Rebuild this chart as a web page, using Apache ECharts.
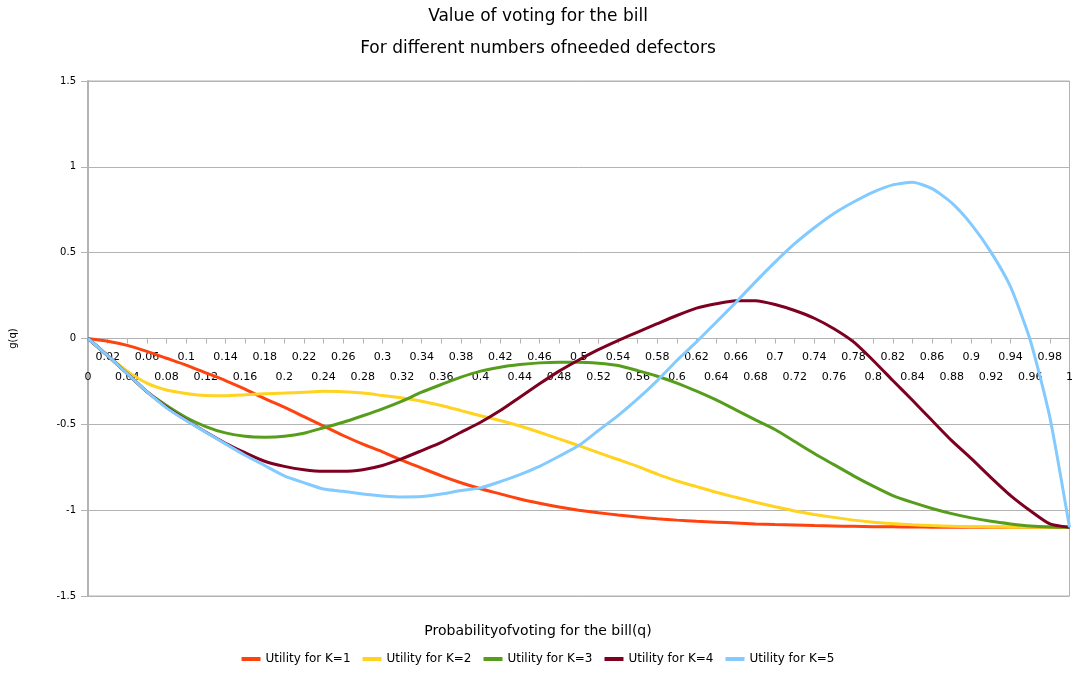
<!DOCTYPE html>
<html>
<head>
<meta charset="utf-8">
<script src="https://cdn.jsdelivr.net/npm/echarts@6/dist/echarts.min.js"></script>
<style>
  html, body { margin: 0; padding: 0; background: #fff; }
  #main { width: 1076px; height: 676px; }
</style>
</head>
<body>
<div id="main"></div>
<script>
// q from 0 to 1, step 0.02
var categories = ['0','0.02','0.04','0.06','0.08','0.1','0.12','0.14','0.16','0.18',
  '0.2','0.22','0.24','0.26','0.28','0.3','0.32','0.34','0.36','0.38',
  '0.4','0.42','0.44','0.46','0.48','0.5','0.52','0.54','0.56','0.58',
  '0.6','0.62','0.64','0.66','0.68','0.7','0.72','0.74','0.76','0.78',
  '0.8','0.82','0.84','0.86','0.88','0.9','0.92','0.94','0.96','0.98','1'];

var seriesNames = ['Utility for K=1','Utility for K=2','Utility for K=3','Utility for K=4','Utility for K=5'];

var k1 = [0,-0.016,-0.04,-0.075,-0.115,-0.155,-0.2,-0.245,-0.295,-0.35,
  -0.40,-0.455,-0.51,-0.565,-0.615,-0.66,-0.71,-0.755,-0.80,-0.84,
  -0.875,-0.905,-0.935,-0.96,-0.982,-1.0,-1.015,-1.028,-1.04,-1.05,
  -1.058,-1.065,-1.07,-1.075,-1.08,-1.084,-1.087,-1.09,-1.092,-1.094,
  -1.096,-1.097,-1.098,-1.099,-1.099,-1.1,-1.1,-1.1,-1.1,-1.1,-1.1];

var k2 = [0,-0.1,-0.19,-0.26,-0.30,-0.32,-0.332,-0.333,-0.328,-0.322,
  -0.318,-0.313,-0.308,-0.31,-0.318,-0.332,-0.346,-0.365,-0.39,-0.42,
  -0.45,-0.478,-0.51,-0.546,-0.585,-0.624,-0.665,-0.705,-0.745,-0.79,
  -0.83,-0.863,-0.896,-0.925,-0.954,-0.98,-1.005,-1.025,-1.042,-1.058,
  -1.07,-1.078,-1.085,-1.09,-1.093,-1.096,-1.098,-1.099,-1.1,-1.1,-1.1];

var k3 = [0,-0.1,-0.205,-0.31,-0.39,-0.46,-0.513,-0.55,-0.57,-0.575,
  -0.57,-0.552,-0.52,-0.488,-0.45,-0.41,-0.365,-0.313,-0.268,-0.225,
  -0.19,-0.167,-0.152,-0.142,-0.138,-0.138,-0.144,-0.157,-0.187,-0.22,
  -0.26,-0.307,-0.358,-0.416,-0.474,-0.53,-0.60,-0.67,-0.735,-0.80,
  -0.86,-0.915,-0.955,-0.99,-1.02,-1.045,-1.065,-1.08,-1.092,-1.098,-1.1];

var k4 = [0,-0.1,-0.205,-0.31,-0.40,-0.475,-0.545,-0.61,-0.665,-0.715,
  -0.745,-0.765,-0.774,-0.774,-0.764,-0.74,-0.70,-0.653,-0.605,-0.546,
  -0.488,-0.42,-0.342,-0.264,-0.19,-0.125,-0.065,-0.012,0.037,0.086,
  0.134,0.177,0.202,0.22,0.22,0.198,0.163,0.118,0.057,-0.02,
  -0.128,-0.245,-0.36,-0.478,-0.595,-0.70,-0.81,-0.915,-1.003,-1.08,-1.1];

var k5 = [0,-0.1,-0.205,-0.31,-0.404,-0.478,-0.546,-0.614,-0.68,-0.74,
  -0.80,-0.84,-0.877,-0.89,-0.906,-0.917,-0.923,-0.921,-0.906,-0.886,
  -0.87,-0.834,-0.793,-0.745,-0.686,-0.624,-0.536,-0.449,-0.352,-0.245,
  -0.128,-0.02,0.095,0.21,0.33,0.445,0.552,0.645,0.728,0.795,
  0.853,0.895,0.91,0.873,0.79,0.665,0.503,0.30,-0.01,-0.46,-1.1];

var colors = ['#ff420e','#ffd320','#579d1c','#7e0021','#83caff'];

var myChart = echarts.init(document.getElementById('main'));

var font = 'DejaVu Sans';
var grey = '#b3b3b3';

var gridTop = 81, gridBottom = 80;
// move the category axis up to the zero line (halfway, as y runs -1.5..1.5)
var zeroOffset = -((676 - gridTop - gridBottom) / 2);

var allData = [k1, k2, k3, k4, k5];
var series = allData.map(function (d, i) {
    return {
        name: seriesNames[i],
        type: 'line',
        data: d,
        symbol: 'none',
        smooth: 0.2,
        lineStyle: { width: 3, color: colors[i] },
        itemStyle: { color: colors[i] }
    };
});

var option = {
    animation: false,
    color: colors,
    textStyle: { fontFamily: font },
    title: [
        { text: 'Value of voting for the bill', left: 'center', top: 3,
          textStyle: { fontFamily: font, fontSize: 17, fontWeight: 'normal', color: '#000' } },
        { text: 'For different numbers ofneeded defectors', left: 'center', top: 35,
          textStyle: { fontFamily: font, fontSize: 17, fontWeight: 'normal', color: '#000' } },
        { text: 'Probabilityofvoting for the bill(q)', left: 'center', top: 619,
          textStyle: { fontFamily: font, fontSize: 14, fontWeight: 'normal', color: '#000' } }
    ],
    legend: {
        data: seriesNames,
        bottom: 6,
        left: 'center',
        icon: 'rect',
        itemWidth: 19,
        itemHeight: 4,
        itemGap: 12,
        textStyle: { fontFamily: font, fontSize: 12, color: '#000' }
    },
    grid: {
        left: 85, right: 3, top: gridTop, bottom: gridBottom,
        show: true, borderColor: grey, borderWidth: 1
    },
    xAxis: {
        type: 'category',
        data: categories,
        boundaryGap: false,
        offset: zeroOffset,
        axisLine: { onZero: false, lineStyle: { color: grey, width: 1 } },
        axisTick: { show: true, interval: 0, length: 5, lineStyle: { color: grey } },
        axisLabel: {
            interval: 0,
            margin: 9,
            fontFamily: font,
            fontSize: 11,
            color: '#000',
            lineHeight: 20,
            formatter: function (v, idx) { return idx % 2 === 1 ? v : '\n' + v; }
        },
        splitLine: { show: false }
    },
    yAxis: {
        type: 'value',
        min: -1.5,
        max: 1.5,
        interval: 0.5,
        name: 'g(q)',
        nameLocation: 'middle',
        nameRotate: 90,
        nameGap: 70,
        nameTextStyle: { fontFamily: font, fontSize: 10, color: '#000' },
        axisLine: { show: true, lineStyle: { color: grey, width: 2 } },
        axisTick: { show: true, length: 7, lineStyle: { color: grey } },
        axisLabel: { margin: 12, fontFamily: font, fontSize: 10, color: '#000' },
        splitLine: { show: true, lineStyle: { color: grey, width: 1 } }
    },
    series: series
};

myChart.setOption(option);
</script>
</body>
</html>
